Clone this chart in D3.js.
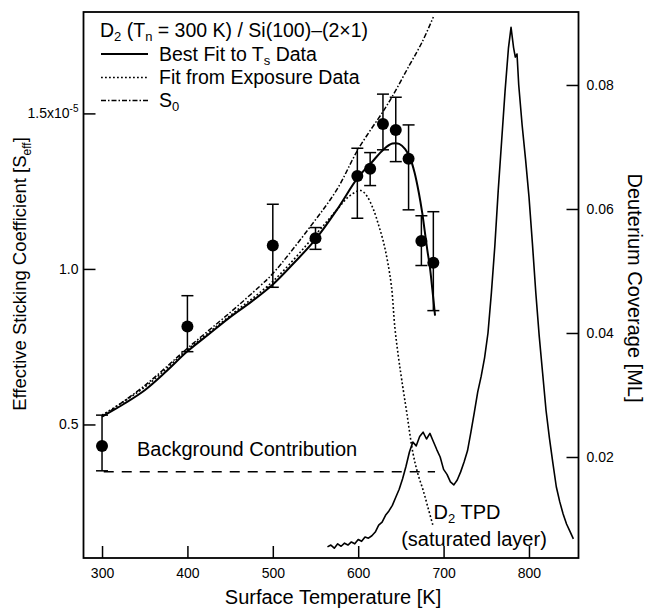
<!DOCTYPE html>
<html><head><meta charset="utf-8">
<script src="https://cdn.jsdelivr.net/npm/d3@7"></script>
<style>
body{margin:0;background:#fff}
text{font-family:"Liberation Sans",Arial,Helvetica,sans-serif;fill:#000}
</style>
</head><body>
<svg id="c" width="645" height="612"></svg>
<script>
// ---- data ----
const xTicks = [300, 400, 500, 600, 700, 800];
const yLeftTicks = [0.5, 1.0, 1.5];
const yRightTicks = [0.02, 0.04, 0.06, 0.08];

// measured effective sticking coefficient (units 1e-5)
const ptT  = [300, 400, 500, 550, 599, 614, 629, 644, 659, 674, 688];
const ptS  = [0.431, 0.815, 1.075, 1.099, 1.299, 1.322, 1.466, 1.447, 1.354, 1.090, 1.020];
const ptHi = [0.530, 0.914, 1.208, 1.133, 1.388, 1.374, 1.562, 1.552, 1.463, 1.171, 1.184];
const ptLo = [0.351, 0.734, 0.941, 1.063, 1.163, 1.268, 1.383, 1.345, 1.190, 1.011, 0.866];

// best fit to Ts data (solid)
const fitT = [300, 325, 350, 375, 400, 425, 450, 475, 500, 525, 550, 575, 600, 615, 630, 640, 648, 655, 661, 666, 671, 675, 678, 681, 684, 687, 690];
const fitS = [0.525, 0.565, 0.61, 0.67, 0.735, 0.79, 0.845, 0.895, 0.95, 1.02, 1.095, 1.19, 1.295, 1.34, 1.385, 1.403, 1.402, 1.385, 1.355, 1.31, 1.245, 1.18, 1.12, 1.06, 1.005, 0.93, 0.85];

// fit from exposure data (dotted)
const expT = [300, 350, 400, 450, 500, 550, 575, 590, 603, 610, 618, 624, 629, 634, 639, 643, 647, 651, 657, 664, 670, 676, 682, 688];
const expS = [0.53, 0.62, 0.74, 0.85, 0.96, 1.11, 1.19, 1.235, 1.252, 1.235, 1.19, 1.14, 1.093, 1.03, 0.943, 0.81, 0.72, 0.643, 0.536, 0.41, 0.34, 0.289, 0.23, 0.171];

// S0 (dash-dot)
const s0T = [300, 350, 400, 450, 485, 500, 545, 575, 600, 630, 640, 660, 675, 688];
const s0S = [0.525, 0.625, 0.745, 0.86, 0.945, 0.985, 1.14, 1.255, 1.385, 1.51, 1.555, 1.655, 1.73, 1.81];

// background contribution
const bgT = [302, 690];
const bgS = [0.348, 0.348];

// D2 TPD of saturated layer (right axis, ML)
const tpdT = [564,568,572,576,580,584,588,592,596,600,604,608,612,616,620,
  624,628,632,636,640,644,648,652,656,660,664,668,672,676,680,684,688,692,696,700,704,708,712,716,720,724,728,732,736,740,744,748,752,756,760,764,768,772,776,
  779,782,784,786,788,
  792,796,800,804,808,812,816,820,824,828,832,836,840,844,848,852];
const tpdC = [.0055,.0058,.0053,.0060,.0056,.0061,.0058,.0063,.0060,.0067,.0064,.0071,.0069,.0073,.0079,
  .0090,.0095,.0106,.0113,.0122,.0135,.0148,.0165,.0185,.0208,.0224,.0218,.0233,.0240,.0229,.0238,.0225,.0212,.0200,.0180,.0172,.0160,.0155,.0163,.0176,.0192,.0210,.0240,.0272,.0305,.0330,.0360,.0400,.0465,.0540,.0630,.0710,.0790,.0860,
  .0893,.0860,.0845,.0850,.0800,
  .0735,.0680,.0620,.0545,.0465,.0395,.0335,.0275,.0230,.0190,.0152,.0128,.0108,.0092,.0080,.0068];

// ---- layout ----
const L = 83.5, R = 578.5, T = 12, B = 558;
const svg = d3.select("#c");
const x = d3.scaleLinear().domain([278.3, 858]).range([L, R]);
const yL = d3.scaleLinear().domain([0.0707, 1.826]).range([B, T]);
const yR = d3.scaleLinear().domain([0.00371, 0.09177]).range([B, T]);

const zip = (a, b) => a.map((v, i) => [v, b[i]]);

// axes (inward ticks)
const ax = svg.append("g").attr("transform", `translate(0,${B})`)
  .call(d3.axisBottom(x).tickValues(xTicks).tickSize(-12).tickPadding(7).tickFormat(d3.format("d")));
const ayl = svg.append("g").attr("transform", `translate(${L},0)`)
  .call(d3.axisLeft(yL).tickValues(yLeftTicks).tickSize(-12).tickPadding(5).tickFormat(d3.format(".1f")));
const ayr = svg.append("g").attr("transform", `translate(${R},0)`)
  .call(d3.axisRight(yR).tickValues(yRightTicks).tickSize(-12).tickPadding(8).tickFormat(d3.format(".2f")));
[ax, ayl, ayr].forEach(g => {
  g.select(".domain").remove();
  g.selectAll(".tick line").attr("stroke", "#000").attr("stroke-width", 1.5);
  g.selectAll(".tick text").attr("font-size", 14).attr("font-family", '"Liberation Sans",Arial,sans-serif').attr("fill", "#000");
});
ax.selectAll(".tick text").attr("dy", "0.95em");
ayl.selectAll(".tick text").filter(d => d === 1.5).text(null).each(function() {
  const t = d3.select(this);
  t.append("tspan").text("1.5x10");
  t.append("tspan").attr("font-size", 10).attr("dy", "-0.6em").text("-5");
});

// frame
svg.append("rect").attr("x", L).attr("y", T).attr("width", R - L).attr("height", B - T)
  .attr("fill", "none").attr("stroke", "#000").attr("stroke-width", 1.8);

// curves
const lineS0 = d3.line().x(d => x(d[0])).y(d => yL(d[1])).curve(d3.curveCatmullRom);
svg.append("path").attr("d", lineS0(zip(s0T, s0S))).attr("fill", "none").attr("stroke", "#000")
  .attr("stroke-width", 1.5).attr("stroke-dasharray", "5,2,1.5,2");
svg.append("path").attr("d", lineS0(zip(expT, expS))).attr("fill", "none").attr("stroke", "#000")
  .attr("stroke-width", 1.6).attr("stroke-dasharray", "1.8,2.2");
svg.append("path").attr("d", lineS0(zip(fitT, fitS))).attr("fill", "none").attr("stroke", "#000")
  .attr("stroke-width", 2);
svg.append("path").attr("d", d3.line().x(d => x(d[0])).y(d => yL(d[1]))(zip(bgT, bgS)))
  .attr("fill", "none").attr("stroke", "#000").attr("stroke-width", 1.5).attr("stroke-dasharray", "10,8");

// TPD
svg.append("path").attr("d", d3.line().x(d => x(d[0])).y(d => yR(d[1]))(zip(tpdT, tpdC)))
  .attr("fill", "none").attr("stroke", "#000").attr("stroke-width", 1.6).attr("stroke-linejoin", "round");

// error bars and points
const pts = ptT.map((t, i) => ({t, s: ptS[i], hi: ptHi[i], lo: ptLo[i]}));
const eb = svg.append("g").attr("stroke", "#000").attr("stroke-width", 1.5);
pts.forEach(p => {
  eb.append("line").attr("x1", x(p.t)).attr("x2", x(p.t)).attr("y1", yL(p.hi)).attr("y2", yL(p.lo));
  eb.append("line").attr("x1", x(p.t) - 6).attr("x2", x(p.t) + 6).attr("y1", yL(p.hi)).attr("y2", yL(p.hi));
  eb.append("line").attr("x1", x(p.t) - 6).attr("x2", x(p.t) + 6).attr("y1", yL(p.lo)).attr("y2", yL(p.lo));
});
svg.append("g").selectAll("circle").data(pts).join("circle")
  .attr("cx", d => x(d.t)).attr("cy", d => yL(d.s)).attr("r", 6).attr("fill", "#000");

// legend
const lg = svg.append("g").attr("font-size", 19.5);
const t1 = lg.append("text").attr("x", 100).attr("y", 37);
t1.append("tspan").text("D");
t1.append("tspan").attr("font-size", 13).attr("dy", 4).text("2");
t1.append("tspan").attr("dy", -4).text(" (T");
t1.append("tspan").attr("font-size", 13).attr("dy", 4).text("n");
t1.append("tspan").attr("dy", -4).text(" = 300 K) / Si(100)–(2×1)");
const rows = [
  {y: 60.5, dash: null},
  {y: 84, dash: "1.8,2.2"},
  {y: 107, dash: "5,2,1.5,2"}
];
rows.forEach(r => {
  lg.append("line").attr("x1", 101).attr("x2", 148).attr("y1", r.y - 6.5).attr("y2", r.y - 6.5)
    .attr("stroke", "#000").attr("stroke-width", r.dash ? 1.5 : 1.8)
    .attr("stroke-dasharray", r.dash);
});
const t2 = lg.append("text").attr("x", 159).attr("y", 60.5);
t2.append("tspan").text("Best Fit to T");
t2.append("tspan").attr("font-size", 13).attr("dy", 4).text("s");
t2.append("tspan").attr("dy", -4).text(" Data");
lg.append("text").attr("x", 159).attr("y", 84).text("Fit from Exposure Data");
const t4 = lg.append("text").attr("x", 159).attr("y", 107);
t4.append("tspan").text("S");
t4.append("tspan").attr("font-size", 13).attr("dy", 4).text("0");

// annotations
svg.append("text").attr("x", 137).attr("y", 456).attr("font-size", 20).text("Background Contribution");
const tp = svg.append("text").attr("x", 467).attr("y", 519).attr("font-size", 20).attr("text-anchor", "middle");
tp.append("tspan").text("D");
tp.append("tspan").attr("font-size", 13).attr("dy", 4).text("2");
tp.append("tspan").attr("dy", -4).text(" TPD");
svg.append("text").attr("x", 474).attr("y", 546).attr("font-size", 20).attr("text-anchor", "middle").text("(saturated layer)");

// axis titles
svg.append("text").attr("x", (L + R) / 2 + 2).attr("y", 604).attr("font-size", 20)
  .attr("text-anchor", "middle").text("Surface Temperature [K]");
const ylt = svg.append("text").attr("transform", "translate(26,274) rotate(-90)")
  .attr("font-size", 18.5).attr("text-anchor", "middle");
ylt.append("tspan").text("Effective Sticking Coefficient [S");
ylt.append("tspan").attr("font-size", 12).attr("dy", 5).text("eff");
ylt.append("tspan").attr("dy", -5).text("]");
svg.append("text").attr("transform", "translate(628,288) rotate(90)")
  .attr("font-size", 20).attr("text-anchor", "middle").text("Deuterium Coverage [ML]");
</script>
</body></html>
